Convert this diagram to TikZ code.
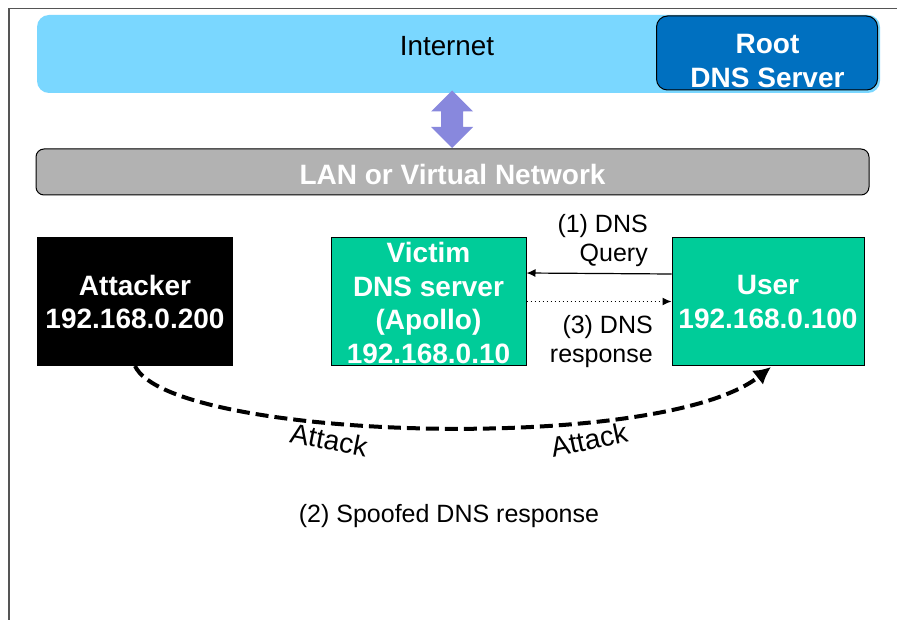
\documentclass[tikz,border=0pt]{standalone}
\usepackage{fontspec}
\setmainfont{Liberation Sans}
\usetikzlibrary{arrows.meta}
\definecolor{netblue}{HTML}{7AD7FF}
\definecolor{rootblue}{HTML}{0070C0}
\definecolor{teal}{HTML}{00CC99}
\definecolor{lavender}{HTML}{8888DD}
\definecolor{lan}{HTML}{B2B2B2}
\definecolor{frame}{HTML}{555555}
\tikzset{
  bigw/.style={text=white,font=\fontsize{28}{33.5}\selectfont\bfseries,align=center,inner sep=0pt},
  hostbox/.style={bigw,draw=black,line width=1pt,minimum width=#1,minimum height=128},
  lbl/.style={font=\fontsize{25}{29}\selectfont,text=black,inner sep=0pt},
  thinarrow/.style={line width=1.2pt,-{Latex[length=9,width=8]}},
}
\begin{document}
\begin{tikzpicture}[x=1pt,y=-1pt]
\useasboundingbox (0,0) rectangle (897,620);
\fill[white] (0,0) rectangle (897,620);
\draw[frame,line width=1.3pt] (9,620) -- (9,8.5) -- (897,8.5);
% Internet band
\node[lbl,fill=netblue,rounded corners=12,minimum width=843,minimum height=78] (net) at (458.5,54) {};
\node[lbl,font=\fontsize{27.8}{30}\selectfont] (nettext) at (447,46) {Internet};
\node[bigw,fill=rootblue,draw=black,line width=1pt,rounded corners=11,minimum width=221,minimum height=74] (root) at (767,53) {};
\node[bigw] (roottext) at (767.5,61) {Root\\DNS Server};
% LAN
\node[bigw,fill=lan,draw=black,line width=1pt,rounded corners=8,minimum width=833,minimum height=46] (lan) at (452.5,172) {};
\node[bigw] (lantext) at (452.5,174) {LAN or Virtual Network};
% double arrow
\fill[lavender] (452,90.5) -- (473,111.5) -- (463,111.5) -- (463,127) -- (473,127) -- (452,148) -- (431,127) -- (441,127) -- (441,111.5) -- (431,111.5) -- cycle;
% hosts
\node[hostbox=195,fill=black] (attacker) at (135,301.5) {};
\node[bigw] (attackertext) at (135,302) {Attacker\\192.168.0.200};
\node[hostbox=195,fill=teal] (victim) at (428.5,301.5) {};
\node[bigw] (victimtext) at (428.5,303) {Victim\\DNS server\\(Apollo)\\192.168.0.10};
\node[hostbox=192,fill=teal] (user) at (768,301.5) {};
\node[bigw] (usertext) at (768,302) {User\\192.168.0.100};
% connectors
\draw[thinarrow] ([yshift=27.5]user.west) -- ([yshift=28.5]victim.east);
\draw[line width=1.2pt,dash pattern=on 1.5pt off 2.5pt,-{Latex[length=9,width=8]}] (victim.east) -- (user.west);
\draw[line width=4pt,dash pattern=on 13pt off 6pt,-{Latex[length=17,width=18]}] (attacker.south) .. controls (170,440) and (660,455) .. ([xshift=3,yshift=-1]user.south);
% labels
\node[lbl,align=right,anchor=east] (q1) at (648,241) {(1) DNS\\Query};
\node[lbl,align=right,anchor=east] (q3) at (653,342) {(3) DNS\\response};
\node[lbl,rotate=-11,font=\fontsize{28}{29}\selectfont] (atk1) at (329,440) {Attack};
\node[lbl,rotate=12,font=\fontsize{28}{29}\selectfont] (atk2) at (589,440) {Attack};
\node[lbl] (spoof) at (449,516) {(2) Spoofed DNS response};
\end{tikzpicture}
\end{document}
